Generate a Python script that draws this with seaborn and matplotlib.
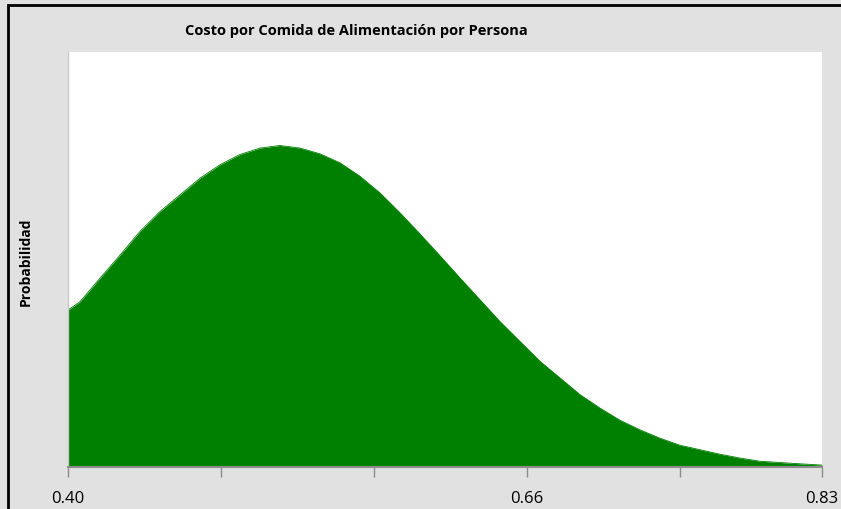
import numpy as np
import pandas as pd
import matplotlib
matplotlib.use("Agg")
import matplotlib.pyplot as plt
import seaborn as sns
from matplotlib.patches import Rectangle

# -----------------------------
# Data
# -----------------------------
cost = [0.4000, 0.4068, 0.4183, 0.4297, 0.4411, 0.4525, 0.4639, 0.4753, 0.4867,
        0.4981, 0.5095, 0.5209, 0.5323, 0.5437, 0.5551, 0.5665, 0.5779, 0.5893,
        0.6007, 0.6121, 0.6236, 0.6350, 0.6464, 0.6578, 0.6692, 0.6806, 0.6920,
        0.7034, 0.7148, 0.7262, 0.7376, 0.7490, 0.7604, 0.7718, 0.7832, 0.7946,
        0.8060, 0.8175, 0.8300]
prob = [2.45, 2.58, 2.95, 3.31, 3.68, 3.99, 4.25, 4.51, 4.72,
        4.88, 4.98, 5.02, 4.98, 4.89, 4.75, 4.54, 4.28, 3.97,
        3.64, 3.30, 2.95, 2.61, 2.27, 1.96, 1.65, 1.39, 1.13,
        0.92, 0.73, 0.58, 0.45, 0.34, 0.27, 0.20, 0.14, 0.09,
        0.07, 0.05, 0.03]
tick_pos = [0.400, 0.4873, 0.5745, 0.6618, 0.749, 0.830]
tick_lab = ["0.40", "", "", "0.66", "", "0.83"]

title = "Costo por Comida de Alimentación por Persona"
ylabel = "Probabilidad"

df = pd.DataFrame({"cost": cost, "prob": prob})

sns.set_style("white")
plt.rcParams["font.family"] = ["Open Sans", "DejaVu Sans"]
plt.rcParams["text.color"] = "black"
plt.rcParams["xtick.labelcolor"] = "black"

fig = plt.figure(figsize=(8.41, 5.09), dpi=100)
fig.patch.set_facecolor("#e1e1e1")
ax = fig.add_axes([68 / 841, 42 / 509, 754 / 841, 415 / 509])
ax.set_facecolor("white")

green = "#008000"
sns.lineplot(data=df, x="cost", y="prob", color=green, linewidth=0.6, ax=ax)
ax.fill_between(df["cost"], df["prob"], 0, color=green, linewidth=0)

ax.set_xlim(0.40, 0.83)
ax.set_ylim(0, 6.48)
ax.set_xticks(tick_pos)
ax.set_xticklabels(tick_lab, fontsize=12, color="black")
ax.set_yticks([])
ax.set_xlabel("")
ax.set_ylabel("")
ax.tick_params(axis="x", direction="out", length=7, width=1, color="#8c8c8c",
               pad=10, bottom=True)

for s in ["top", "right"]:
    ax.spines[s].set_visible(False)
ax.spines["left"].set_color("#c8c8c8")
ax.spines["left"].set_linewidth(1)
ax.spines["bottom"].set_color("#8c8c8c")
ax.spines["bottom"].set_linewidth(1.5)

fig.text(356 / 841, 1 - 31 / 509, title, ha="center", va="center",
         fontsize=10.5, fontweight="bold", color="black")
fig.text(26 / 841, 1 - 262 / 509, ylabel, ha="center", va="center",
         rotation=90, fontsize=10, fontweight="bold", color="black")

# outer frame (left and top edges visible in the reference)
fig.add_artist(Rectangle((8 / 841, -0.01), 1.2, 1 - 5 / 509 + 0.01,
                         transform=fig.transFigure, fill=False,
                         edgecolor="black", linewidth=2))

fig.savefig("out.png", dpi=100, facecolor=fig.get_facecolor())
